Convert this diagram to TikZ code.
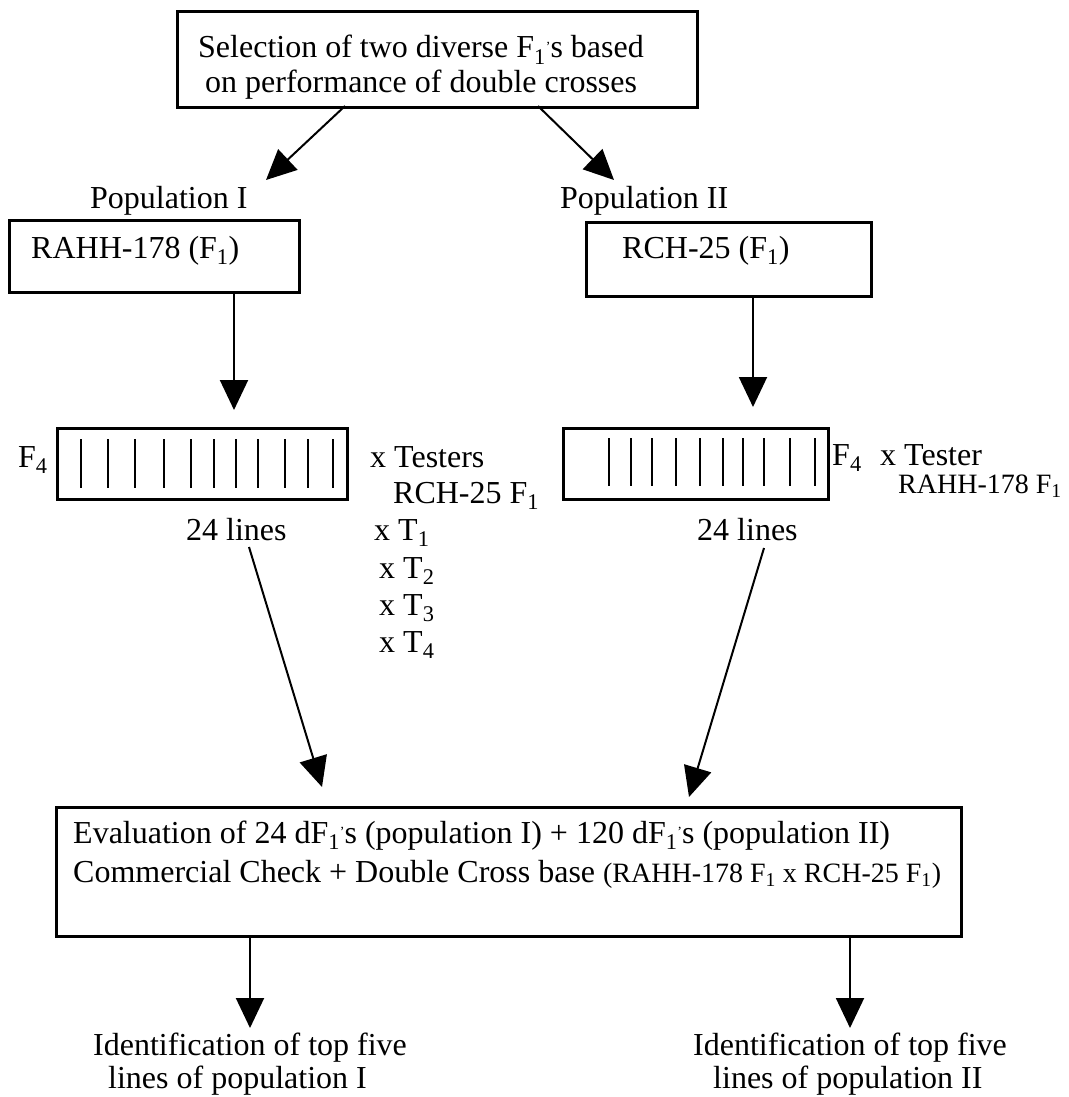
\documentclass[tikz,border=0pt]{standalone}
\usepackage{fontspec}
\setmainfont{Liberation Serif}
\usetikzlibrary{arrows.meta,calc}
\newcommand{\Fsub}{F\textsubscript{1}}
\newcommand{\Fs}{F\textsubscript{1}\raisebox{0.2em}{\fontsize{14}{14}\selectfont ’}s}
\begin{document}
\begin{tikzpicture}[x=1pt,y=-1pt,
  box/.style={draw,line width=3pt,inner sep=0pt,anchor=north west},
  txt/.style={anchor=base west,inner sep=0pt,font=\fontsize{32}{38}\selectfont},
  stxt/.style={anchor=base west,inner sep=0pt,font=\fontsize{28}{34}\selectfont},
  arr/.style={line width=2pt,-{Triangle[length=30pt,width=28pt]}},
  tick/.style={line width=2pt}]
\useasboundingbox[fill=white] (0,0) rectangle (1068,1097);

% top box
\node[box,minimum width=520pt,minimum height=96pt] (top) at (176,10) {};
\node[txt] (top1) at (198,58) {Selection of two diverse \Fs\ based};
\node[txt] (top2) at (205,93) {on performance of double crosses};

\coordinate (a1s) at (345,106);
\coordinate (a1e) at (266,180);
\coordinate (a2s) at (538,106);
\coordinate (a2e) at (614,180);
\draw[arr] (a1s) -- (a1e);
\draw[arr] (a2s) -- (a2e);

\node[txt] (pop1) at (90,208) {Population I};
\node[txt] (pop2) at (560,208) {Population II};

% F1 boxes
\node[box,minimum width=290pt,minimum height=72pt] (rahh) at (8,219) {};
\node[txt] (rahht) at (31,258) {RAHH-178 (\Fsub)};
\node[box,minimum width=285pt,minimum height=74pt] (rch) at (585,221) {};
\node[txt] (rcht) at (622,258) {RCH-25 (\Fsub)};

\coordinate (d1s) at (234,291);
\coordinate (d1e) at (234,410);
\coordinate (d2s) at (753,295);
\coordinate (d2e) at (753,407);
\draw[arr] (d1s) -- (d1e);
\draw[arr] (d2s) -- (d2e);

% F4 boxes
\node[box,minimum width=290pt,minimum height=71pt] (f4a) at (56,427) {};
\foreach \x in {81,108,135,164,191,214,236,258,285,308,333}
  \draw[tick] (\x,439) -- (\x,488);
\node[box,minimum width=265pt,minimum height=71pt] (f4b) at (562,427) {};
\foreach \x in {609,631,652,676,700,723,743,764,790,815}
  \draw[tick] (\x,438) -- (\x,486);

\node[txt] (f4al) at (18,467) {F\textsubscript{4}};
\node[txt] (xt) at (370,467) {x Testers};
\node[txt] (xtr) at (393,503) {RCH-25 \Fsub};
\node[txt] (l1) at (186,540) {24 lines};
\node[txt] (t1) at (374,540) {x T\textsubscript{1}};
\node[txt] (t2) at (379,578) {x T\textsubscript{2}};
\node[txt] (t3) at (379,615) {x T\textsubscript{3}};
\node[txt] (t4) at (379,652) {x T\textsubscript{4}};

\node[txt] (f4bl) at (832,465) {F\textsubscript{4}};
\node[txt] (xt2) at (880,465) {x Tester};
\node[stxt] (xtr2) at (898,493) {RAHH-178 \Fsub};
\node[txt] (l2) at (697,540) {24 lines};

\coordinate (g1s) at (249,547);
\coordinate (g1e) at (322,787);
\coordinate (g2s) at (764,548);
\coordinate (g2e) at (689,797);
\draw[arr] (g1s) -- (g1e);
\draw[arr] (g2s) -- (g2e);

% evaluation box
\node[box,minimum width=905pt,minimum height=129pt] (ev) at (55,806) {};
\node[txt] (ev1) at (73,843) {Evaluation of 24 d\Fs\ (population I) + 120 d\Fs\ (population II)};
\node[txt] (ev2) at (73,882) {Commercial Check + Double Cross base {\fontsize{28}{34}\selectfont(RAHH-178 \Fsub\ x RCH-25 \Fsub)}};

\coordinate (b1s) at (250,935);
\coordinate (b1e) at (250,1028);
\coordinate (b2s) at (850,935);
\coordinate (b2e) at (850,1028);
\draw[arr] (b1s) -- (b1e);
\draw[arr] (b2s) -- (b2e);

\node[txt] (id1a) at (93,1055) {Identification of top five};
\node[txt] (id1b) at (108,1088) {lines of population I};
\node[txt] (id2a) at (693,1055) {Identification of top five};
\node[txt] (id2b) at (713,1088) {lines of population II};
\end{tikzpicture}
\end{document}
